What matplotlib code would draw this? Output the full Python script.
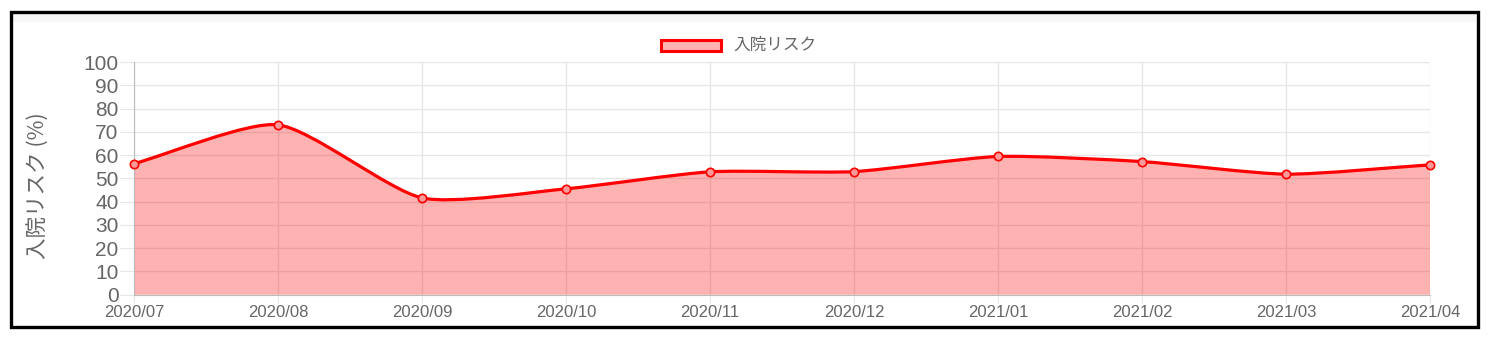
import numpy as np
import matplotlib
matplotlib.use("Agg")
import matplotlib.pyplot as plt
from matplotlib.path import Path
from matplotlib.patches import PathPatch, Rectangle

months = ["2020/07", "2020/08", "2020/09", "2020/10", "2020/11",
          "2020/12", "2021/01", "2021/02", "2021/03", "2021/04"]
risk = [56.3, 73.0, 41.6, 45.5, 52.8, 52.9, 59.4, 57.2, 51.8, 55.8]
y_ticks = list(range(0, 101, 10))
series_label = "入院リスク"
y_label = "入院リスク (%)"

W, H, DPI = 1488, 337, 100
fig = plt.figure(figsize=(W / DPI, H / DPI), dpi=DPI)
fig.patch.set_facecolor("white")

ax = fig.add_axes([134 / W, (H - 294.7) / H, (1430 - 134) / W, (294.7 - 62) / H])
ax.set_xlim(0, len(months) - 1)
ax.set_ylim(0, 100)

grid_c = "#e6e6e6"
text_c = "#666666"
jp = ["Noto Sans CJK JP", "DejaVu Sans"]

x = np.arange(len(months), dtype=float)
y = np.array(risk, dtype=float)

# cardinal spline, control points computed in display space
fig.canvas.draw()
pts = ax.transData.transform(np.column_stack([x, y]))
tension = 0.22
verts = [pts[0]]
codes = [Path.MOVETO]
n = len(pts)
cps = []
for i in range(n):
    prev = pts[max(i - 1, 0)]
    cur = pts[i]
    nxt = pts[min(i + 1, n - 1)]
    d01 = np.hypot(*(cur - prev))
    d12 = np.hypot(*(nxt - cur))
    tot = d01 + d12
    s01 = d01 / tot if tot else 0
    s12 = d12 / tot if tot else 0
    cp_prev = cur - tension * s01 * (nxt - prev)
    cp_next = cur + tension * s12 * (nxt - prev)
    cps.append((cp_prev, cp_next))
for i in range(1, n):
    verts += [cps[i - 1][1], cps[i][0], pts[i]]
    codes += [Path.CURVE4] * 3
inv = ax.transData.inverted()
verts_data = inv.transform(np.array(verts))

curve = Path(verts_data, codes)
fill_verts = np.vstack([verts_data, [[x[-1], 0], [x[0], 0], verts_data[0]]])
fill_codes = codes + [Path.LINETO, Path.LINETO, Path.CLOSEPOLY]

ax.add_patch(PathPatch(Path(fill_verts, fill_codes), facecolor=(1, 0, 0, 0.3),
                       edgecolor="none", zorder=2))
ax.add_patch(PathPatch(curve, facecolor="none", edgecolor="#ff0000", lw=2.3,
                       zorder=3, capstyle="round", joinstyle="round"))
ax.plot(x, y, linestyle="none", marker="o", markersize=6,
        markerfacecolor=(1, 0.6, 0.6), markeredgecolor="#ff0000",
        markeredgewidth=1.2, zorder=4, clip_on=False)

# grid and axes
ax.set_xticks(x)
ax.set_xticklabels(months)
ax.set_yticks(y_ticks)
ax.set_yticklabels([str(t) for t in y_ticks])
ax.grid(True, color=grid_c, lw=1, zorder=1)
ax.set_axisbelow(True)
for side in ["top", "right"]:
    ax.spines[side].set_visible(False)
ax.spines["left"].set_color("#bdbdbd")
ax.spines["bottom"].set_color("#bdbdbd")
ax.tick_params(axis="y", length=10, color=grid_c, labelcolor=text_c,
               labelsize=15, pad=1)
ax.tick_params(axis="x", length=6, color=grid_c, labelcolor=text_c,
               labelsize=12, pad=1.5)
for lbl in ax.get_xticklabels() + ax.get_yticklabels():
    lbl.set_family("Liberation Sans")

ax.set_ylabel(y_label, family=jp, fontsize=15.5, color=text_c)
ax.yaxis.set_label_coords((50 - 134) / (1430 - 134), (294.7 - 186) / (294.7 - 62))

# legend drawn at the top centre
fig.patches.append(Rectangle((661 / W, (H - 51) / H), 60 / W, 11 / H,
                             transform=fig.transFigure, facecolor=(1, 0.7, 0.7),
                             edgecolor="#ff0000", lw=2.2))
fig.text(733 / W, (H - 45.5) / H, series_label, family=jp, fontsize=12,
         color=text_c, va="center", ha="left")

# top band and outer frame
fig.patches.append(Rectangle((12 / W, (H - 22) / H), (1476 - 12) / W, 9 / H,
                             transform=fig.transFigure, facecolor="#f7f7f7",
                             edgecolor="none", zorder=0))
fig.patches.append(Rectangle((10.5 / W, (H - 326.5) / H), (1477.5 - 10.5) / W,
                             (326.5 - 11.5) / H, transform=fig.transFigure,
                             facecolor="none", edgecolor="black", lw=2.4))

fig.savefig("out.png", dpi=DPI, facecolor="white")
